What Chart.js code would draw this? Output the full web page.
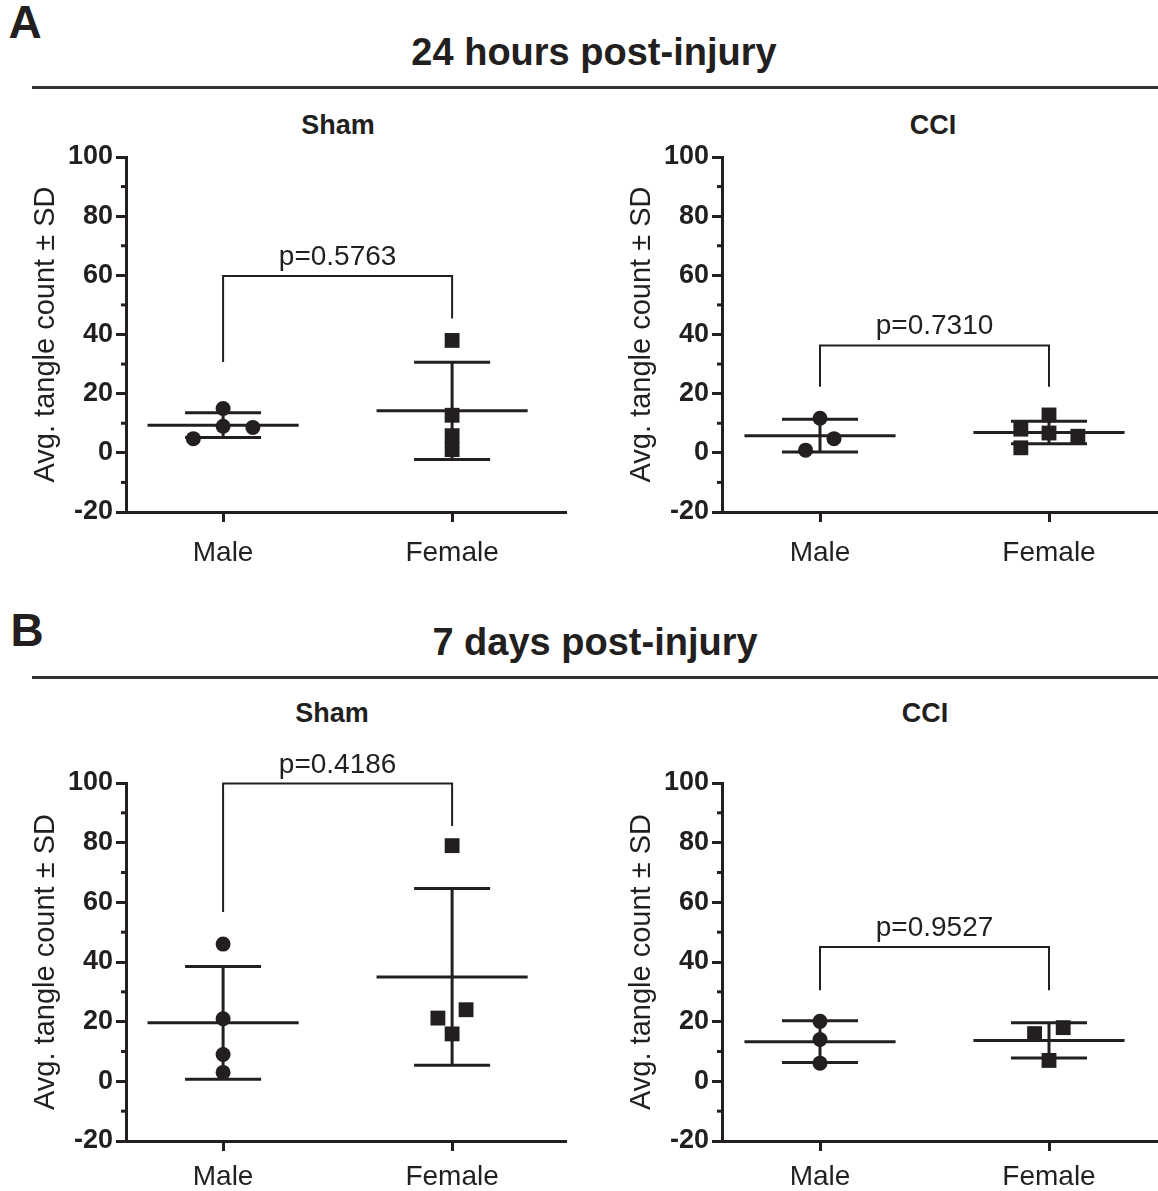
<!DOCTYPE html>
<html>
<head>
<meta charset="utf-8">
<script src="https://cdn.jsdelivr.net/npm/chart.js@4.4.1/dist/chart.umd.min.js"></script>
<style>
  body { margin: 0; background: #fff; }
  #page { position: relative; width: 1158px; height: 1191px; overflow: hidden;
          font-family: "Liberation Sans", Arial, sans-serif; color: #231f20; }
  .lbl { position: absolute; line-height: 1; white-space: nowrap;
         transform: translate(-50%, -50%); font-weight: bold; }
  .rule { position: absolute; left: 32px; right: 0; height: 3px; background: #333; }
  canvas { position: absolute; }
</style>
</head>
<body>
<div id="page">
  <div class="lbl" style="left:25px;top:22px;font-size:46px">A</div>
  <div class="lbl" style="left:594px;top:52px;font-size:38px">24 hours post-injury</div>
  <div class="rule" style="top:86px"></div>
  <div class="lbl" style="left:338px;top:125px;font-size:27px">Sham</div>
  <div class="lbl" style="left:933px;top:125px;font-size:27px">CCI</div>

  <div class="lbl" style="left:27px;top:630px;font-size:46px">B</div>
  <div class="lbl" style="left:595px;top:642px;font-size:38px">7 days post-injury</div>
  <div class="rule" style="top:676px"></div>
  <div class="lbl" style="left:332px;top:713px;font-size:27px">Sham</div>
  <div class="lbl" style="left:925px;top:713px;font-size:27px">CCI</div>

  <!-- right-hand canvases run 15px past the page edge so their axis ends at the border -->
  <canvas id="a-sham" width="580" height="450" style="left:0;top:140px"></canvas>
  <canvas id="a-cci"  width="577" height="450" style="left:596px;top:140px"></canvas>
  <canvas id="b-sham" width="580" height="451" style="left:0;top:740px"></canvas>
  <canvas id="b-cci"  width="577" height="451" style="left:596px;top:740px"></canvas>
</div>

<script>
const INK  = '#231f20';
const FONT = '"Liberation Sans", Arial, sans-serif';

const CATEGORIES = ['Male', 'Female'];
const Y_TICKS    = [-20, 0, 20, 40, 60, 80, 100];
const Y_MINOR    = [-10, 10, 30, 50, 70, 90];
const Y_TITLE    = 'Avg. tangle count ± SD';

// ── A: 24 hours, Sham ───────────────────────────────────────────────
const A_SHAM_MALE      = [15, 9, 8.6, 4.8];
const A_SHAM_MALE_DX   = [0, 0, 0.13, -0.13];     // horizontal scatter
const A_SHAM_FEMALE    = [38, 12.7, 5.8, 1.1];
const A_SHAM_FEMALE_DX = [0, 0, 0, 0];
const A_SHAM_MEAN      = [9.35, 14.2];
const A_SHAM_SD        = [4.2, 16.45];
const A_SHAM_BRACKET   = [59.8, 30.7, 45.4];      // bar, left end, right end
const A_SHAM_P         = 'p=0.5763';

// ── A: 24 hours, CCI ────────────────────────────────────────────────
const A_CCI_MALE      = [11.7, 4.8, 0.9];
const A_CCI_MALE_DX   = [0, 0.061, -0.063];
const A_CCI_FEMALE    = [12.8, 8.0, 6.7, 5.6, 1.7];
const A_CCI_FEMALE_DX = [0, -0.123, 0, 0.126, -0.123];
const A_CCI_MEAN      = [5.8, 6.9];
const A_CCI_SD        = [5.55, 3.8];
const A_CCI_BRACKET   = [36.3, 22.3, 22.3];
const A_CCI_P         = 'p=0.7310';

// ── B: 7 days, Sham ─────────────────────────────────────────────────
const B_SHAM_MALE      = [46, 21, 9, 3];
const B_SHAM_MALE_DX   = [0, 0, 0, 0];
const B_SHAM_FEMALE    = [79, 24, 21.2, 15.9];
const B_SHAM_FEMALE_DX = [0, 0.061, -0.062, 0];
const B_SHAM_MEAN      = [19.6, 35.0];
const B_SHAM_SD        = [18.9, 29.6];
const B_SHAM_BRACKET   = [99.8, 56.8, 85.6];
const B_SHAM_P         = 'p=0.4186';

// ── B: 7 days, CCI ──────────────────────────────────────────────────
const B_CCI_MALE      = [20.1, 14.0, 6.1];
const B_CCI_MALE_DX   = [0, 0, 0];
const B_CCI_FEMALE    = [16.0, 18.0, 7.0];
const B_CCI_FEMALE_DX = [-0.063, 0.062, 0];
const B_CCI_MEAN      = [13.3, 13.7];
const B_CCI_SD        = [7.0, 5.9];
const B_CCI_BRACKET   = [45.0, 30.5, 30.5];
const B_CCI_P         = 'p=0.9527';

// ── Plugins ─────────────────────────────────────────────────────────

// short unlabeled ticks between the labelled ones
const minorTicks = {
  id: 'minorTicks',
  afterDraw(chart) {
    const { ctx, chartArea } = chart;
    const y = chart.scales.y;
    ctx.save();
    ctx.strokeStyle = INK;
    ctx.lineWidth = 3;
    Y_MINOR.forEach(v => {
      const py = y.getPixelForValue(v);
      ctx.beginPath();
      ctx.moveTo(chartArea.left - 5, py);
      ctx.lineTo(chartArea.left, py);
      ctx.stroke();
    });
    ctx.restore();
  }
};

// mean line + SD whiskers for each group
const errBars = {
  id: 'errBars',
  beforeDatasetsDraw(chart, args, opts) {
    const { ctx } = chart;
    const { x, y } = chart.scales;
    ctx.save();
    ctx.strokeStyle = INK;
    ctx.lineWidth = 3;
    ctx.lineCap = 'butt';
    opts.means.forEach((m, i) => {
      const c = i + 1, s = opts.sds[i];
      const line = (x0, y0, x1, y1) => {
        ctx.beginPath();
        ctx.moveTo(x.getPixelForValue(x0), y.getPixelForValue(y0));
        ctx.lineTo(x.getPixelForValue(x1), y.getPixelForValue(y1));
        ctx.stroke();
      };
      line(c - 0.33, m, c + 0.33, m);
      line(c, m - s, c, m + s);
      line(c - 0.166, m + s, c + 0.166, m + s);
      line(c - 0.166, m - s, c + 0.166, m - s);
    });
    ctx.restore();
  }
};

// significance bracket with p value
const bracket = {
  id: 'bracket',
  afterDraw(chart, args, opts) {
    const { ctx } = chart;
    const { x, y } = chart.scales;
    const [bar, l, r] = opts.levels;
    const x1 = x.getPixelForValue(1), x2 = x.getPixelForValue(2);
    const yb = y.getPixelForValue(bar);
    ctx.save();
    ctx.strokeStyle = INK;
    ctx.lineWidth = 2;
    ctx.beginPath();
    ctx.moveTo(x1, y.getPixelForValue(l));
    ctx.lineTo(x1, yb);
    ctx.lineTo(x2, yb);
    ctx.lineTo(x2, y.getPixelForValue(r));
    ctx.stroke();
    ctx.fillStyle = INK;
    ctx.font = `28px ${FONT}`;
    ctx.textAlign = 'center';
    ctx.textBaseline = 'alphabetic';
    ctx.fillText(opts.text, (x1 + x2) / 2, yb - 11);
    ctx.restore();
  }
};

// ── Panel builder ───────────────────────────────────────────────────

function makePanel(id, p) {
  const toPts = (vals, dx, c) => vals.map((v, i) => ({ x: c + dx[i], y: v }));

  return new Chart(document.getElementById(id), {
    type: 'scatter',
    data: {
      datasets: [
        {
          label: CATEGORIES[0],
          data: toPts(p.male, p.maleDx, 1),
          pointStyle: 'circle',
          pointRadius: 7.5,
          backgroundColor: INK,
          borderWidth: 0
        },
        {
          label: CATEGORIES[1],
          data: toPts(p.female, p.femaleDx, 2),
          pointStyle: 'rect',
          pointRadius: 10.5,
          backgroundColor: INK,
          borderWidth: 0
        }
      ]
    },
    options: {
      responsive: false,
      animation: false,
      events: [],
      layout: { padding: { top: p.padTop, right: 15, left: 0, bottom: 0 } },
      plugins: {
        legend: { display: false },
        tooltip: { enabled: false },
        errBars: { means: p.mean, sds: p.sd },
        bracket: { levels: p.bracket, text: p.pText }
      },
      scales: {
        x: {
          type: 'linear',
          min: p.xMin,
          max: p.xMax,
          afterBuildTicks: s => { s.ticks = [{ value: 1 }, { value: 2 }]; },
          afterFit: s => { s.height = p.xHeight; s.paddingLeft = 0; s.paddingRight = 0; },
          ticks: {
            color: INK,
            font: { family: FONT, size: 28 },
            padding: p.labelPad,
            maxRotation: 0,
            callback: v => CATEGORIES[v - 1]
          },
          grid: { drawOnChartArea: false, tickLength: 10, tickWidth: 3, lineWidth: 3, tickColor: INK },
          border: { display: true, color: INK, width: 3 }
        },
        y: {
          min: -20,
          max: 100,
          afterBuildTicks: s => { s.ticks = Y_TICKS.map(v => ({ value: v })); },
          afterFit: s => { s.width = 126; s.paddingTop = 0; s.paddingBottom = 0; },
          ticks: {
            color: INK,
            font: { family: FONT, size: 27, weight: 'bold' },
            padding: 3
          },
          grid: { drawOnChartArea: false, tickLength: 10, tickWidth: 3, lineWidth: 3, tickColor: INK },
          border: { display: true, color: INK, width: 3 },
          title: {
            display: true,
            text: Y_TITLE,
            color: INK,
            font: { family: FONT, size: 29, lineHeight: 1.2 },
            padding: { top: 29, bottom: 0 }
          }
        }
      }
    },
    plugins: [minorTicks, errBars, bracket]
  });
}

const LEFT_X  = { xMin: 0.576, xMax: 2.493 };
const RIGHT_X = { xMin: 0.572, xMax: 2.476 };

makePanel('a-sham', {
  male: A_SHAM_MALE, maleDx: A_SHAM_MALE_DX,
  female: A_SHAM_FEMALE, femaleDx: A_SHAM_FEMALE_DX,
  mean: A_SHAM_MEAN, sd: A_SHAM_SD, bracket: A_SHAM_BRACKET, pText: A_SHAM_P,
  padTop: 17, xHeight: 78, labelPad: 14, ...LEFT_X
});
makePanel('a-cci', {
  male: A_CCI_MALE, maleDx: A_CCI_MALE_DX,
  female: A_CCI_FEMALE, femaleDx: A_CCI_FEMALE_DX,
  mean: A_CCI_MEAN, sd: A_CCI_SD, bracket: A_CCI_BRACKET, pText: A_CCI_P,
  padTop: 17, xHeight: 78, labelPad: 14, ...RIGHT_X
});
makePanel('b-sham', {
  male: B_SHAM_MALE, maleDx: B_SHAM_MALE_DX,
  female: B_SHAM_FEMALE, femaleDx: B_SHAM_FEMALE_DX,
  mean: B_SHAM_MEAN, sd: B_SHAM_SD, bracket: B_SHAM_BRACKET, pText: B_SHAM_P,
  padTop: 43, xHeight: 50, labelPad: 9, ...LEFT_X
});
makePanel('b-cci', {
  male: B_CCI_MALE, maleDx: B_CCI_MALE_DX,
  female: B_CCI_FEMALE, femaleDx: B_CCI_FEMALE_DX,
  mean: B_CCI_MEAN, sd: B_CCI_SD, bracket: B_CCI_BRACKET, pText: B_CCI_P,
  padTop: 43, xHeight: 50, labelPad: 9, ...RIGHT_X
});
</script>
</body>
</html>
